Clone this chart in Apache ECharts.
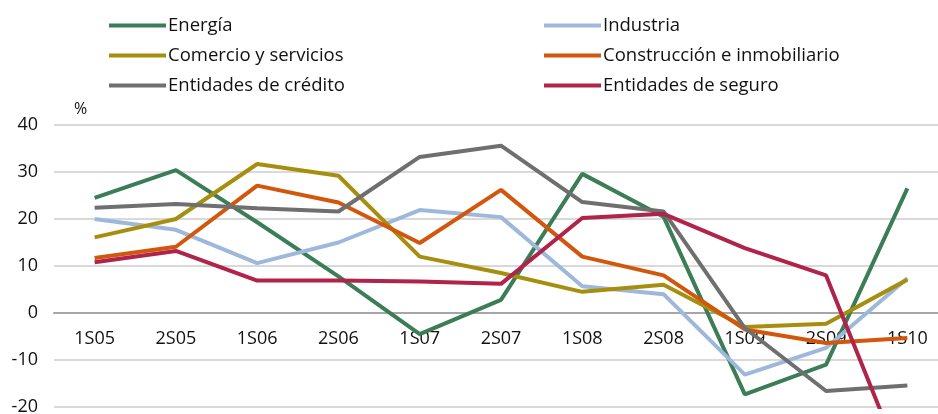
<!DOCTYPE html>
<html>
<head>
<meta charset="utf-8">
<script src="https://cdn.jsdelivr.net/npm/echarts@6/dist/echarts.min.js"></script>
<style>
html,body{margin:0;padding:0;background:#fff;}
#chart{width:938px;height:414px;}
</style>
</head>
<body>
<div id="chart"></div>
<script>
const categories = ['1S05','2S05','1S06','2S06','1S07','2S07','1S08','2S08','1S09','2S09','1S10'];
const energia      = [24.5, 30.4, 19.3, 7.8, -4.5, 2.8, 29.6, 20.5, -17.3, -11.0, 26.5];
const industria    = [20.0, 17.7, 10.6, 15.0, 21.9, 20.4, 5.7, 4.0, -13.1, -7.4, 7.4];
const comercio     = [16.1, 20.0, 31.7, 29.2, 12.0, 8.5, 4.5, 6.0, -3.0, -2.3, 7.1];
const construccion = [11.7, 14.1, 27.1, 23.5, 14.9, 26.2, 12.0, 8.0, -3.5, -6.4, -5.3];
const credito      = [22.4, 23.2, 22.3, 21.6, 33.2, 35.6, 23.6, 21.6, -3.2, -16.6, -15.4];
const seguro       = [10.8, 13.2, 6.9, 6.9, 6.7, 6.2, 20.2, 21.1, 13.8, 8.0, -35.0];

const seriesDefs = [
  {name:'Energía', data:energia, color:'#3b7d56'},
  {name:'Industria', data:industria, color:'#9db8da'},
  {name:'Comercio y servicios', data:comercio, color:'#a68f0f'},
  {name:'Construcción e inmobiliario', data:construccion, color:'#d2560b'},
  {name:'Entidades de crédito', data:credito, color:'#6f6f6f'},
  {name:'Entidades de seguro', data:seguro, color:'#b0234a'}
];

const font = 'Open Sans, Noto Sans, sans-serif';
const chart = echarts.init(document.getElementById('chart'), null, {renderer:'canvas'});
const legendCommon = {
  orient:'vertical', top:16, padding:0, itemWidth:57, itemHeight:4, itemGap:11, icon:'rect',
  textStyle:{fontFamily:font, fontSize:18.5, color:'#111', padding:[0,0,0,-3]}
};
chart.setOption({
  animation:false,
  legend:[
    Object.assign({left:109, data:['Energía','Comercio y servicios','Entidades de crédito']}, legendCommon),
    Object.assign({left:544, data:['Industria','Construcción e inmobiliario','Entidades de seguro']}, legendCommon)
  ],
  grid:{left:54, top:125, width:894, height:282, containLabel:false, outerBoundsMode:'none'},
  xAxis:{
    type:'category', data:categories, boundaryGap:true, position:'bottom',
    offset:-94,
    axisLine:{onZero:false, lineStyle:{color:'#a6a6a6', width:2}},
    axisTick:{show:false},
    axisLabel:{fontFamily:font, fontSize:18, color:'#111', margin:17}
  },
  yAxis:{
    type:'value', min:-20, max:40, interval:10,
    name:'%', nameLocation:'end', nameGap:8,
    nameTextStyle:{fontFamily:font, fontSize:16, color:'#111', align:'left', padding:[0,0,0,20]},
    axisLine:{show:false}, axisTick:{show:false},
    axisLabel:{fontFamily:font, fontSize:18, color:'#111', margin:16},
    splitLine:{lineStyle:{color:'#d9d9d9', width:2}}
  },
  series: seriesDefs.map(s => ({
    name:s.name, type:'line', data:s.data, symbol:'none', clip:true,
    lineStyle:{color:s.color, width:4}, itemStyle:{color:s.color}
  }))
});
</script>
</body>
</html>
